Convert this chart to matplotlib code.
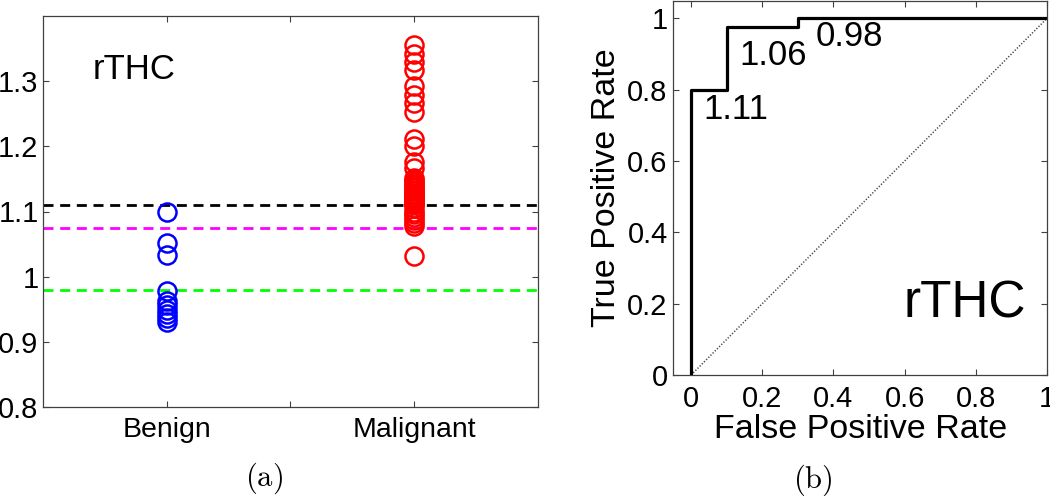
import numpy as np
import matplotlib
matplotlib.use("Agg")
import matplotlib.pyplot as plt

plt.rcParams['font.family'] = ['Liberation Sans', 'DejaVu Sans']
plt.rcParams['mathtext.fontset'] = 'cm'

# Data: rTHC values per group
benign = [1.100, 1.052, 1.034, 0.978, 0.963, 0.956, 0.949, 0.942, 0.936, 0.931]
malignant = [1.355, 1.342, 1.330, 1.317, 1.292, 1.279, 1.266, 1.253, 1.212, 1.200,
             1.176, 1.166, 1.152, 1.148, 1.145, 1.142, 1.139, 1.136, 1.133, 1.131,
             1.129, 1.127, 1.125, 1.123, 1.121, 1.119, 1.117, 1.116, 1.115, 1.113,
             1.112, 1.111, 1.105, 1.100, 1.096, 1.092, 1.087, 1.082, 1.077, 1.031]
group_labels = ['Benign', '', 'Malignant']
thresholds = [1.11, 1.074, 0.98]
threshold_colors = ['black', '#ff00ff', '#00ff00']

# ROC curve
fpr = [0.0, 0.0, 0.1, 0.1, 0.3, 0.3, 1.0]
tpr = [0.0, 0.8, 0.8, 0.975, 0.975, 1.0, 1.0]
roc_labels = ['1.11', '1.06', '0.98']
roc_label_xy = [(0.034, 0.743), (0.137, 0.897), (0.351, 0.948)]

W, H = 1050, 496
fig = plt.figure(figsize=(W / 100, H / 100), dpi=100)

spine_col = '0.25'

def style_axes(ax):
    for s in ax.spines.values():
        s.set_color(spine_col)
        s.set_linewidth(0.9)
    ax.tick_params(direction='in', top=True, right=True, length=4,
                   width=0.8, color=spine_col, labelsize=21)

# (a) scatter
ax1 = fig.add_axes([42.7 / W, 1 - 407 / H, (538 - 42.7) / W, (407 - 16) / H])
for y, c in zip(thresholds, threshold_colors):
    ax1.axhline(y, color=c, lw=2, dashes=(3.6, 2.4))
ax1.plot([1] * len(benign), benign, 'o', mfc='none', mec='blue', ms=13, mew=1.8)
ax1.plot([2] * len(malignant), malignant, 'o', mfc='none', mec='red', ms=13, mew=1.8)
ax1.set_xlim(0.5, 2.5)
ax1.set_ylim(0.8, 1.4)
ax1.set_xticks([1, 1.5, 2])
ax1.set_xticklabels(group_labels)
ax1.set_yticks([0.8, 0.9, 1.0, 1.1, 1.2, 1.3])
ax1.set_yticklabels(['0.8', '0.9', '1', '1.1', '1.2', '1.3'])
style_axes(ax1)
ax1.tick_params(axis='x', pad=7, labelsize=20.5)
ax1.tick_params(axis='y', pad=3, labelsize=21)
ax1.text(0.7, 1.318, 'rTHC', fontsize=25, ha='left', va='center')

# (b) ROC
ax2 = fig.add_axes([673.3 / W, 1 - 375 / H, (1047 - 673.3) / W, (375 - 0.5) / H])
ax2.plot([0, 1], [0, 1], ls=(0, (0.8, 1.2)), color='0.25', lw=1.1)
ax2.plot(fpr, tpr, color='black', lw=2.3)
for lab, (x, y) in zip(roc_labels, roc_label_xy):
    ax2.text(x, y, lab, fontsize=25, ha='left', va='center')
ax2.text(0.77, 0.2, 'rTHC', fontsize=37, ha='center', va='center')
ax2.set_xlim(-0.05, 1.0)
ax2.set_ylim(0.0, 1.05)
ax2.set_xticks([0, 0.2, 0.4, 0.6, 0.8, 1.0])
ax2.set_xticklabels(['0', '0.2', '0.4', '0.6', '0.8', '1'])
ax2.set_yticks([0, 0.2, 0.4, 0.6, 0.8, 1.0])
ax2.set_yticklabels(['0', '0.2', '0.4', '0.6', '0.8', '1'])
style_axes(ax2)
ax2.tick_params(axis='x', pad=7)
ax2.tick_params(axis='y', pad=4)
ax2.set_xlabel('False Positive Rate', fontsize=24.5, labelpad=1)
ax2.set_ylabel('True Positive Rate', fontsize=24.5, labelpad=4)

fig.text(264 / W, 1 - 478 / H, r'$\mathrm{(a)}$', fontsize=22, ha='center', va='center')
fig.text(813 / W, 1 - 480 / H, r'$\mathrm{(b)}$', fontsize=22, ha='center', va='center')

fig.savefig('out.png', dpi=100)
